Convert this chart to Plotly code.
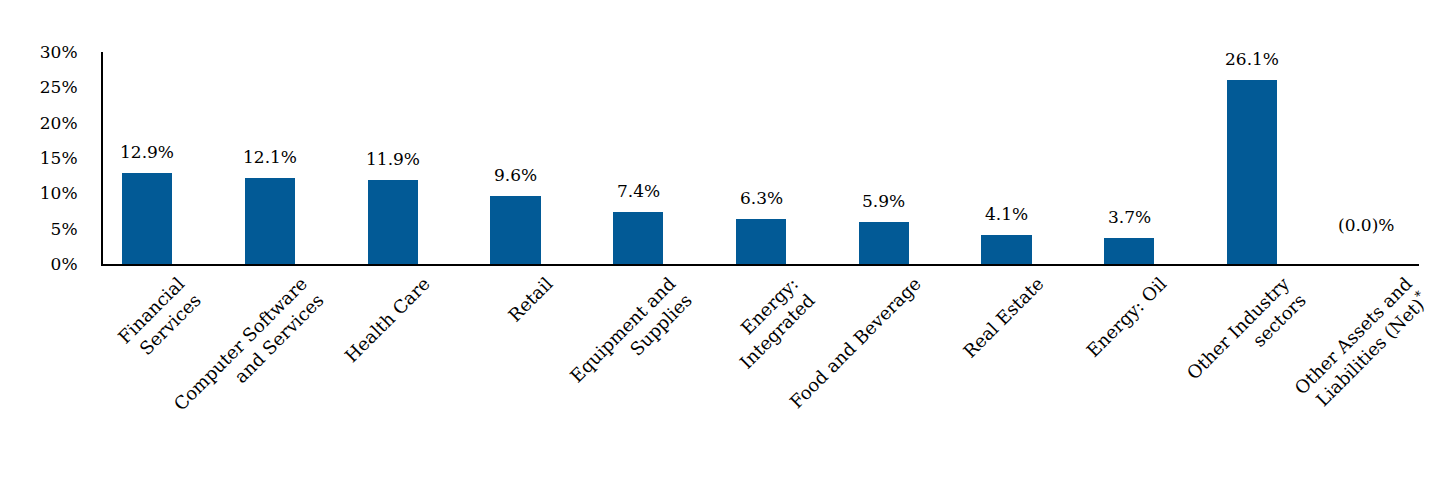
import plotly.graph_objects as go

categories = [
    "Financial<br>Services",
    "Computer Software<br>and Services",
    "Health Care",
    "Retail",
    "Equipment and<br>Supplies",
    "Energy:<br>Integrated",
    "Food and Beverage",
    "Real Estate",
    "Energy: Oil",
    "Other Industry<br>sectors",
    "Other Assets and<br>Liabilities (Net)<sup>*</sup>",
]
values = [12.9, 12.1, 11.9, 9.6, 7.4, 6.3, 5.9, 4.1, 3.7, 26.1, 0.0]
value_labels = ["12.9%", "12.1%", "11.9%", "9.6%", "7.4%", "6.3%", "5.9%", "4.1%", "3.7%", "26.1%", "(0.0)%"]
y_ticks = [0, 5, 10, 15, 20, 25, 30]
y_tick_labels = ["0%", "5%", "10%", "15%", "20%", "25%", "30%"]

FONT = "DejaVu Serif"
BAR_COLOR = "#025A96"

x_idx = list(range(len(categories)))

fig = go.Figure()
fig.add_trace(go.Bar(
    x=x_idx,
    y=values,
    width=0.41,
    marker=dict(color=BAR_COLOR, line=dict(width=0)),
    hoverinfo="skip",
))

for i, (v, t) in enumerate(zip(values, value_labels)):
    last = i == len(values) - 1
    fig.add_annotation(
        x=i, y=v, text=t, showarrow=False,
        yanchor="bottom", yshift=(27 if last else 9),
        xshift=(-9 if last else 0),
        font=dict(family=FONT, size=17, color="#000000"),
    )

fig.update_layout(
    width=1440, height=492,
    margin=dict(l=95, r=29, t=44, b=236, autoexpand=False),
    paper_bgcolor="white", plot_bgcolor="white",
    showlegend=False,
    font=dict(family=FONT, size=17, color="#000000"),
    bargap=0,
)
fig.update_xaxes(
    range=[-0.36, 10.36],
    tickmode="array", tickvals=x_idx, ticktext=categories,
    tickangle=-45,
    automargin=False,
    ticklabelshift=32,
    showline=True, linecolor="black", linewidth=2,
    showgrid=False, zeroline=False, ticks="",
    tickfont=dict(family=FONT, size=18, color="#000000"),
)
fig.update_yaxes(
    range=[0, 30],
    tickmode="array", tickvals=y_ticks, ticktext=y_tick_labels,
    automargin=False,
    showline=True, linecolor="black", linewidth=2,
    showgrid=False, zeroline=False, ticks="",
    ticklabelstandoff=20,
    tickfont=dict(family=FONT, size=17, color="#000000"),
)

fig.write_html("out.html")
